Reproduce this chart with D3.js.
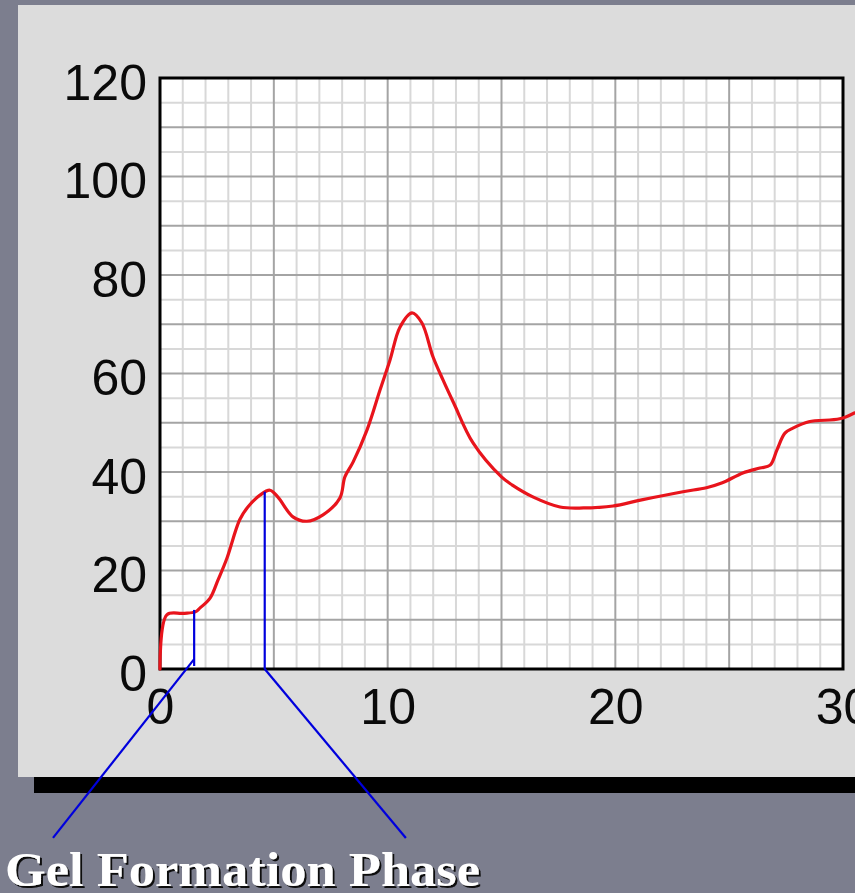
<!DOCTYPE html>
<html><head><meta charset="utf-8">
<script src="https://cdn.jsdelivr.net/npm/d3@7"></script>
<style>html,body{margin:0;padding:0;background:#7c7e8e;overflow:hidden}</style>
</head><body>
<script>
// ---- data ----
const timeVals = [0, 0.3, 1.0, 1.55, 1.76, 2.2, 2.55, 2.94, 3.5, 3.86, 4.39, 4.83, 5.18, 5.84, 6.45, 7.16, 7.9, 8.12, 8.48, 9.09, 9.66, 10.1, 10.54, 11.07, 11.5, 11.99, 12.43, 12.9, 13.75, 15.0, 15.46, 16.4, 17.57, 18.6, 19.9, 21.1, 22.97, 24.0, 24.7, 25.6, 26.35, 26.8, 27.1, 27.45, 27.8, 28.5, 29.86, 30.5];
const seriesVals = [0, 11.0, 11.3, 11.6, 12.4, 14.4, 18.1, 22.5, 30.3, 32.9, 35.3, 36.3, 34.9, 30.9, 30.0, 31.3, 34.7, 39.0, 42.0, 48.5, 56.6, 62.7, 69.4, 72.3, 70.3, 63.4, 58.7, 54.0, 45.9, 39.0, 37.4, 34.9, 32.9, 32.7, 33.1, 34.3, 36.0, 36.8, 37.8, 39.8, 40.8, 41.4, 44.5, 47.9, 48.9, 50.2, 50.8, 52.0];
const yTicks = [0, 20, 40, 60, 80, 100, 120];
const xTicks = [0, 10, 20, 30];
const annotationLabel = "Gel Formation Phase";
// phase markers
const markerT = [1.5, 4.6];
const markerTop = [12, 36];
const leaderStartV = [2, 0];
const leaderEndT = [-4.7, 10.8];
const leaderEndV = [-34.3, -34.3];

const W = 855, H = 893;
const svg = d3.select("body").append("svg").attr("width", W).attr("height", H);

const defs = svg.append("defs");
const f = defs.append("filter").attr("id", "shadow").attr("x", "-5%").attr("y", "-20%").attr("width", "110%").attr("height", "140%");
f.append("feDropShadow").attr("dx", 2).attr("dy", 2).attr("stdDeviation", 0.6).attr("flood-color", "#111").attr("flood-opacity", 1);

// background
svg.append("rect").attr("width", W).attr("height", H).attr("fill", "#7c7e8e");
svg.append("rect").attr("x", 34).attr("y", 777).attr("width", W).attr("height", 16).attr("fill", "#000");
svg.append("rect").attr("x", 18).attr("y", 5).attr("width", W).attr("height", 772).attr("fill", "#dcdcdc");

const x = d3.scaleLinear().domain([0, 30]).range([160, 843]);
const y = d3.scaleLinear().domain([0, 120]).range([669, 78]);

// plot area
svg.append("rect").attr("x", x(0)).attr("y", y(120)).attr("width", x(30) - x(0)).attr("height", y(0) - y(120)).attr("fill", "#fff");

const g = svg.append("g");
// minor grid
g.selectAll("line.vmin").data(d3.range(1, 30).filter(d => d % 5 !== 0)).join("line")
  .attr("x1", d => x(d)).attr("x2", d => x(d)).attr("y1", y(0)).attr("y2", y(120))
  .attr("stroke", "#d8d8d8").attr("stroke-width", 2);
g.selectAll("line.hmin").data(d3.range(5, 120, 10)).join("line")
  .attr("y1", d => y(d)).attr("y2", d => y(d)).attr("x1", x(0)).attr("x2", x(30))
  .attr("stroke", "#d8d8d8").attr("stroke-width", 2);
// major grid
g.selectAll("line.vmaj").data([5, 10, 15, 20, 25]).join("line")
  .attr("x1", d => x(d)).attr("x2", d => x(d)).attr("y1", y(0)).attr("y2", y(120))
  .attr("stroke", "#a4a4a4").attr("stroke-width", 2);
g.selectAll("line.hmaj").data(d3.range(10, 120, 10)).join("line")
  .attr("y1", d => y(d)).attr("y2", d => y(d)).attr("x1", x(0)).attr("x2", x(30))
  .attr("stroke", "#a4a4a4").attr("stroke-width", 2);

// frame
svg.append("rect").attr("x", x(0)).attr("y", y(120)).attr("width", x(30) - x(0)).attr("height", y(0) - y(120))
  .attr("fill", "none").attr("stroke", "#000").attr("stroke-width", 3);

// axes
const fontAx = "'Liberation Sans', Arial, Helvetica, sans-serif";
const ay = svg.append("g").attr("transform", `translate(${x(0)},5)`)
  .call(d3.axisLeft(y).tickValues(yTicks).tickSize(0).tickPadding(13));
ay.select(".domain").remove();
ay.selectAll("text").attr("font-size", 50).attr("font-family", fontAx).attr("fill", "#0a0a0a");

const ax = svg.append("g").attr("transform", `translate(0,${y(0)})`)
  .call(d3.axisBottom(x).tickValues(xTicks).tickSize(0).tickPadding(19));
ax.select(".domain").remove();
ax.selectAll("text").attr("font-size", 50).attr("font-family", fontAx).attr("fill", "#0a0a0a");

// curve
const line = d3.line().x(d => x(d[0])).y(d => y(d[1])).curve(d3.curveCatmullRom.alpha(0.5));
svg.append("path").datum(timeVals.map((t, i) => [t, seriesVals[i]]))
  .attr("d", line).attr("fill", "none").attr("stroke", "#e8141c").attr("stroke-width", 3.2)
  .attr("stroke-linejoin", "round").attr("stroke-linecap", "round");

// annotation markers
markerT.forEach((t, i) => {
  svg.append("line").attr("x1", x(t)).attr("x2", x(t)).attr("y1", y(markerTop[i])).attr("y2", y(0) - (i === 0 ? 3 : 0))
    .attr("stroke", "#0000dd").attr("stroke-width", 2.2);
  svg.append("line").attr("x1", x(t)).attr("y1", y(leaderStartV[i]))
    .attr("x2", x(leaderEndT[i])).attr("y2", y(leaderEndV[i]))
    .attr("stroke", "#0000dd").attr("stroke-width", 2.2);
});

// label with shadow
svg.append("text").attr("x", 5).attr("y", 886)
  .attr("font-family", "'Liberation Serif', 'DejaVu Serif', serif")
  .attr("font-weight", "bold").attr("font-size", 48).attr("fill", "#fff")
  .attr("filter", "url(#shadow)")
  .attr("textLength", 475).attr("lengthAdjust", "spacingAndGlyphs").text(annotationLabel);
</script>
</body></html>
